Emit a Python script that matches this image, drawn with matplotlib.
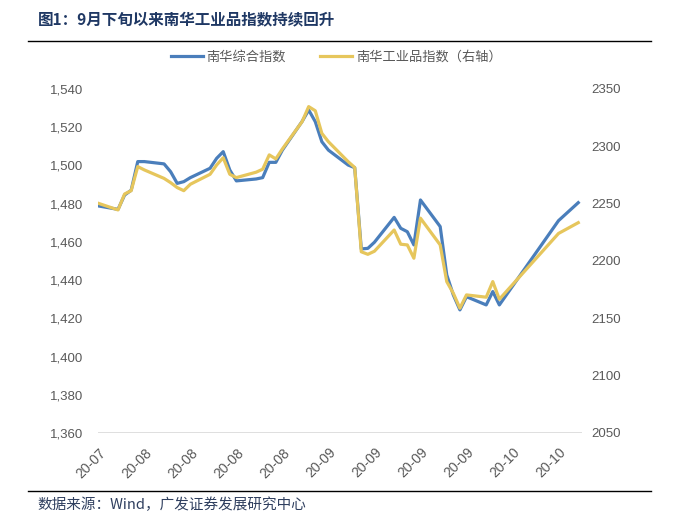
# -*- coding: utf-8 -*-
import numpy as np
import matplotlib.pyplot as plt
import matplotlib.dates as mdates

plt.rcParams['font.family'] = ['Liberation Sans', 'Noto Sans CJK SC']

dates = ['2020-07-31',
         '2020-08-03', '2020-08-04', '2020-08-05', '2020-08-06', '2020-08-07',
         '2020-08-10', '2020-08-11', '2020-08-12', '2020-08-13', '2020-08-14',
         '2020-08-17', '2020-08-18', '2020-08-19', '2020-08-20', '2020-08-21',
         '2020-08-24', '2020-08-25', '2020-08-26', '2020-08-27', '2020-08-28',
         '2020-08-31', '2020-09-01', '2020-09-02', '2020-09-03', '2020-09-04',
         '2020-09-07', '2020-09-08', '2020-09-09', '2020-09-10', '2020-09-11',
         '2020-09-14', '2020-09-15', '2020-09-16', '2020-09-17', '2020-09-18',
         '2020-09-21', '2020-09-22', '2020-09-23', '2020-09-24', '2020-09-25',
         '2020-09-28', '2020-09-29', '2020-09-30', '2020-10-09', '2020-10-12']

# 南华综合指数 (left axis)
composite = [1478.8,
             1477.0, 1484.5, 1487.0, 1502.0, 1502.0,
             1500.8, 1496.7, 1490.6, 1491.5, 1493.6,
             1498.5, 1503.7, 1507.2, 1497.6, 1491.9,
             1492.9, 1493.6, 1501.6, 1501.6, 1508.0,
             1523.0, 1529.0, 1522.9, 1512.4, 1508.0,
             1500.2, 1498.8, 1456.3, 1456.6, 1459.8,
             1472.8, 1467.1, 1465.3, 1458.4, 1481.9,
             1468.0, 1442.7, 1432.2, 1424.4, 1431.3,
             1427.0, 1434.0, 1427.0, 1471.1, 1480.5]

# 南华工业品指数 (right axis)
industrial = [2250.3,
              2244.5, 2258.4, 2261.3, 2282.3, 2279.4,
              2272.0, 2268.3, 2264.0, 2261.3, 2266.9,
              2275.6, 2283.7, 2290.0, 2275.6, 2272.7,
              2277.4, 2280.0, 2292.5, 2289.0, 2297.7,
              2321.5, 2334.6, 2331.0, 2311.3, 2304.0,
              2286.6, 2281.5, 2208.0, 2205.8, 2208.5,
              2227.0, 2214.6, 2214.0, 2202.4, 2237.3,
              2214.0, 2182.0, 2171.8, 2158.8, 2170.4,
              2168.4, 2182.0, 2166.6, 2224.0, 2233.4]

left_ticks = np.arange(1360, 1541, 20)
right_ticks = np.arange(2050, 2351, 50)

x = np.array(dates, dtype='datetime64[D]')
blue = '#4a7ebb'
gold = '#e6c65c'
grey = '#595959'

fig = plt.figure(figsize=(6.77, 5.16), dpi=100)
ax = fig.add_axes([0.1448, 0.1609, 0.715, 0.6667])
ax2 = ax.twinx()

l1, = ax.plot(x, composite, color=blue, lw=2.3, solid_joinstyle='round', zorder=3)
l2, = ax2.plot(x, industrial, color=gold, lw=2.3, solid_joinstyle='round', zorder=3)

ax.set_ylim(1360, 1540)
ax.set_yticks(left_ticks)
ax.set_yticklabels(['{:,}'.format(v) for v in left_ticks])
ax2.set_ylim(2050, 2350)
ax2.set_yticks(right_ticks)

ax.set_xlim(x[0] - np.timedelta64(1, 'h'), x[-1] + np.timedelta64(14, 'h'))
ax.set_xticks(x[0] + np.arange(11) * np.timedelta64(7, 'D'))
ax.xaxis.set_major_formatter(mdates.DateFormatter('%y-%m'))
plt.setp(ax.get_xticklabels(), rotation=45, ha='right', rotation_mode='anchor')

# only the bottom line of the plot area is drawn
ax.axhline(1360, color='#d9d9d9', lw=1.2, zorder=1)
for a in (ax, ax2):
    for s in a.spines.values():
        s.set_visible(False)
    a.tick_params(length=0, labelsize=9.5, colors=grey)
ax.tick_params(axis='y', pad=11)
ax.tick_params(axis='x', pad=9, labelsize=10)
ax2.tick_params(axis='y', pad=7)

fig.legend([l1, l2], ['南华综合指数', '南华工业品指数（右轴）'], loc='center',
           bbox_to_anchor=(0.497, 0.889), ncol=2, frameon=False,
           handlelength=2.4, handletextpad=0.3, columnspacing=2.6, labelcolor=grey,
           prop={'family': ['Noto Sans CJK SC'], 'size': 9.5})

fig.text(0.056, 0.962, '图1：9月下旬以来南华工业品指数持续回升', fontsize=11.2,
         fontweight='bold', color='#1f3864', va='center',
         family=['Noto Sans CJK SC'])
fig.add_artist(plt.Line2D([0.041, 0.962], [0.921, 0.921], color='black', lw=1))
fig.add_artist(plt.Line2D([0.041, 0.962], [0.048, 0.048], color='black', lw=1))
fig.text(0.056, 0.021, '数据来源：Wind，广发证券发展研究中心', fontsize=10.5,
         color='#2f3f5f', va='center', family=['Noto Sans CJK SC', 'Liberation Sans'])

plt.savefig('out.png', dpi=100)
